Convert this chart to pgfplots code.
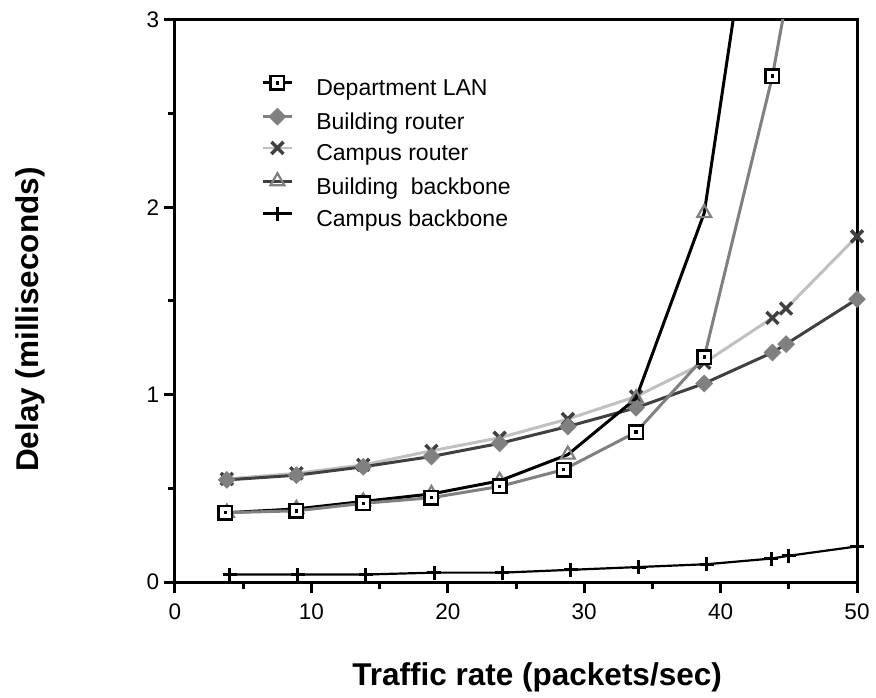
\documentclass[border=0pt]{standalone}
\usepackage{pgfplots}
\pgfplotsset{compat=1.18}
\usepackage{fontspec}
\setmainfont{Liberation Sans}
\definecolor{mgray}{HTML}{808080}
\definecolor{dgray}{HTML}{404040}
\definecolor{lgray}{HTML}{C0C0C0}
\pgfdeclareplotmark{sqdot}{%
  \pgfpathrectangle{\pgfqpoint{-\pgfplotmarksize}{-\pgfplotmarksize}}{\pgfqpoint{2\pgfplotmarksize}{2\pgfplotmarksize}}%
  \pgfusepathqfillstroke
  \begin{pgfscope}%
  \pgfsetfillcolor{black}%
  \pgfpathrectangle{\pgfqpoint{-1.7bp}{-1.7bp}}{\pgfqpoint{3.4bp}{3.4bp}}%
  \pgfusepathqfill
  \end{pgfscope}%
}
\begin{document}
\begin{tikzpicture}
\useasboundingbox (-175bp,-116bp) rectangle (701bp,582bp);
\begin{axis}[
  scale only axis, width=682bp, height=562bp,
  xmin=0, xmax=50, ymin=0, ymax=3,
  line width=3bp,
  xtick={0,10,...,50}, ytick={0,1,2,3},
  minor xtick={5,15,...,45}, minor ytick={0.5,1.5,2.5},
  tick align=outside, xtick pos=bottom, ytick pos=left,
  major tick length=11bp, minor tick length=7bp,
  tick style={black, line width=3bp},
  axis line style={line width=3bp},
  tick label style={font=\fontsize{22.5bp}{27bp}\selectfont},
  xticklabel style={yshift=-6bp},
  /pgf/number format/assume math mode=true,
  label style={font=\fontsize{31.5bp}{38bp}\selectfont\bfseries},
  xlabel={Traffic rate (packets/sec)},
  ylabel={Delay (milliseconds)},
  xlabel style={at={([yshift=-103bp]axis description cs:0.531,0)}, anchor=base},
  ylabel style={at={([xshift=-136bp]axis description cs:0,0.467)}, anchor=base},
  clip mode=individual,
  legend image code/.code={\draw[mark repeat=2,mark phase=2] plot coordinates {(0bp,7.5bp) (14.5bp,7.5bp) (29bp,7.5bp)};},
  legend style={at={(0.1203,0.9065)}, anchor=north west, draw=none, fill=none,
    font=\fontsize{23bp}{28bp}\selectfont, row sep=6.3bp, column sep=23bp,
    nodes={inner sep=0pt, text height=17bp, text depth=6bp}},
  legend cell align=left,
]
% legend images
\addlegendimage{black, line width=2.8bp, mark=sqdot, mark size=6.8bp, mark options={solid, line width=2.4bp, draw=black, fill=white}}
\addlegendimage{mgray, line width=2.8bp, mark=square*, mark size=6bp, mark options={solid, rotate=45, line width=0.5bp, draw=mgray, fill=mgray}}
\addlegendimage{lgray, line width=2.8bp, mark=x, mark size=8.5bp, mark options={solid, line width=3.4bp, draw=dgray}}
\addlegendimage{dgray, line width=2.8bp, mark=triangle, mark size=8bp, mark options={solid, line width=2.2bp, draw=mgray, fill=white}}
\addlegendimage{black, line width=2.8bp, mark=+, mark size=7bp, mark options={solid, line width=3bp, draw=black}}
% Campus backbone
\addplot[forget plot, black, line width=2.2bp, mark=+, mark size=7bp, mark options={solid, line width=3bp, draw=black}] coordinates {
(4,0.04) (9,0.04) (14,0.04) (19,0.05) (24,0.05) (29,0.065) (34,0.08) (39,0.095) (43.7,0.125) (45,0.14) (50,0.19)};
% Campus router
\addplot[forget plot, lgray, line width=3bp, mark=x, mark size=8.5bp, mark options={solid, line width=3.4bp, draw=dgray}] coordinates {
(3.8,0.55) (8.9,0.58) (13.8,0.625) (18.8,0.70) (23.8,0.77) (28.8,0.87) (33.8,0.99) (38.8,1.17) (43.8,1.41) (44.8,1.46) (50,1.845)};
% Building router
\addplot[forget plot, dgray, line width=3bp, mark=square*, mark size=6bp, mark options={solid, rotate=45, line width=0.5bp, draw=mgray, fill=mgray}] coordinates {
(3.8,0.545) (8.9,0.57) (13.8,0.615) (18.8,0.67) (23.8,0.74) (28.8,0.83) (33.8,0.93) (38.8,1.06) (43.8,1.225) (44.8,1.27) (50,1.51)};
% Building backbone
\addplot[forget plot, black, line width=3bp, mark=triangle, mark size=8bp, mark options={solid, line width=2.2bp, draw=mgray, fill=white}] coordinates {
(3.8,0.37) (8.9,0.39) (13.8,0.43) (18.8,0.47) (23.8,0.54) (28.8,0.68) (33.8,0.98) (38.8,1.97) (43.8,4.4)};
% Department LAN
\addplot[forget plot, mgray, line width=3bp, mark=sqdot, mark size=6.8bp, mark options={solid, line width=2.4bp, draw=black, fill=white}] coordinates {
(3.7,0.37) (8.9,0.38) (13.8,0.42) (18.8,0.45) (23.8,0.51) (28.5,0.60) (33.8,0.80) (38.8,1.20) (43.8,2.70) (48.8,4.7)};
\legend{Department LAN, Building router, Campus router, Building\ \ backbone, Campus backbone}
\end{axis}
\end{tikzpicture}
\end{document}
